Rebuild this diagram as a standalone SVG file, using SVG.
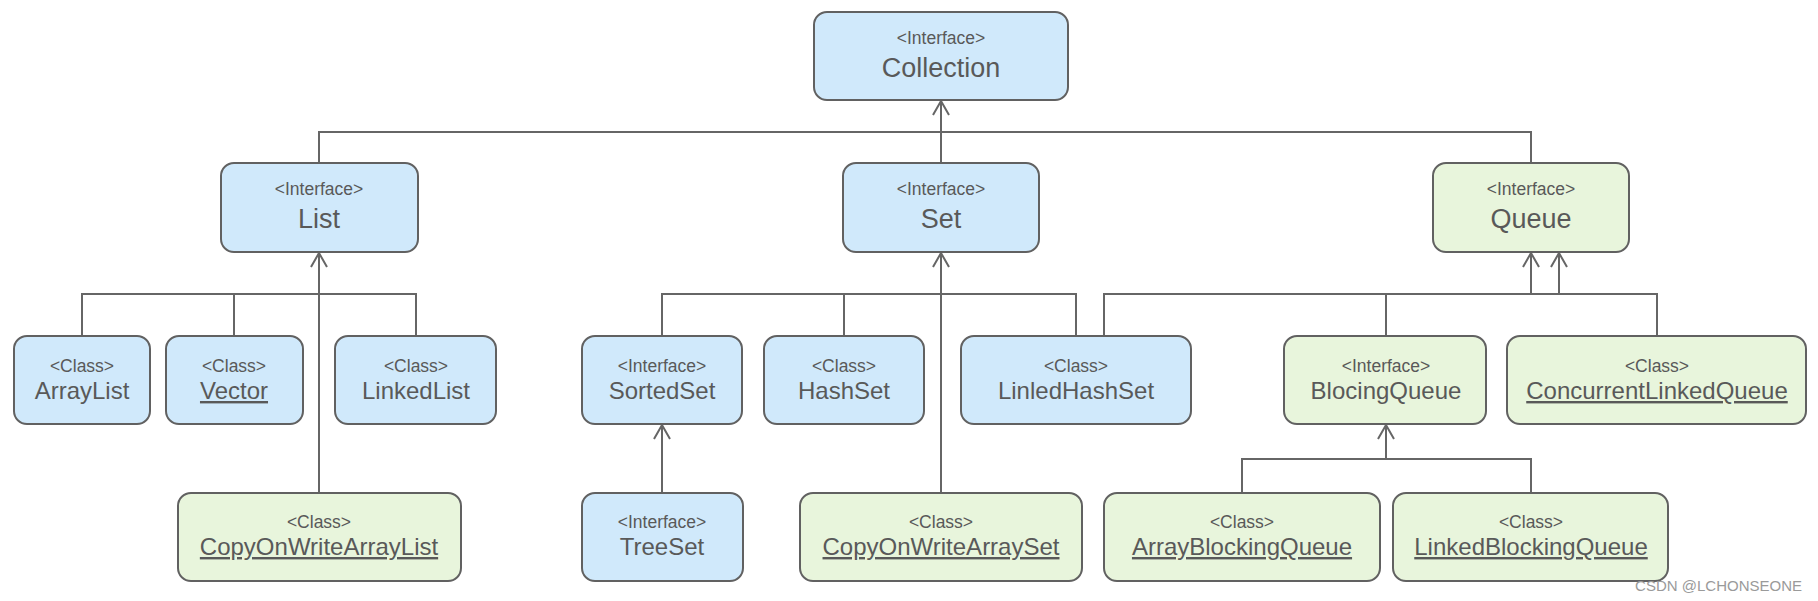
<svg xmlns="http://www.w3.org/2000/svg" width="1818" height="601" viewBox="0 0 1818 601">
<style>
.b rect{fill:#d0e9fb;stroke:#616161;stroke-width:2}
.g rect{fill:#e8f5dc;stroke:#616161;stroke-width:2}
text{font-family:"Liberation Sans",Arial,sans-serif;fill:#595959;text-anchor:middle}
.s{font-size:17.5px}
.l1{font-size:27px}
.l2{font-size:24px}
.u{text-decoration:underline}
#connectors path{fill:none;stroke:#666;stroke-width:2}
.wm{font-size:15px;fill:#9a9a9a;text-anchor:end}
</style>
<defs>
<marker id="arr" markerUnits="userSpaceOnUse" markerWidth="20" markerHeight="20" viewBox="-16 -10 20 20" refX="0" refY="0" orient="auto">
<path d="M-14,-8 L0,0 L-14,8" fill="none" stroke="#666" stroke-width="2"/>
</marker>
</defs>
<rect width="1818" height="601" fill="#fff"/>
<g id="connectors">
<path d="M319,163 V132 H1531 V163"/>
<path d="M941,163 V101" marker-end="url(#arr)"/>
<path d="M82,336 V294 H416 V336 M234,294 V336"/>
<path d="M319,493 V253" marker-end="url(#arr)"/>
<path d="M662,336 V294 H1076 V336 M844,294 V336"/>
<path d="M941,493 V253" marker-end="url(#arr)"/>
<path d="M662,493 V425" marker-end="url(#arr)"/>
<path d="M1104,336 V294 H1657 V336 M1386,294 V336"/>
<path d="M1531,294 V253" marker-end="url(#arr)"/>
<path d="M1559,294 V253" marker-end="url(#arr)"/>
<path d="M1242,493 V459 H1531 V493"/>
<path d="M1386,459 V425" marker-end="url(#arr)"/>
</g>
<g id="collection" class="b"><rect x="814" y="12" width="254" height="88" rx="13"/><text class="s" x="941" y="44">&lt;Interface&gt;</text><text class="l1" x="941" y="77">Collection</text></g>
<g id="list" class="b"><rect x="221" y="163" width="197" height="89" rx="13"/><text class="s" x="319" y="195">&lt;Interface&gt;</text><text class="l1" x="319" y="228">List</text></g>
<g id="set" class="b"><rect x="843" y="163" width="196" height="89" rx="13"/><text class="s" x="941" y="195">&lt;Interface&gt;</text><text class="l1" x="941" y="228">Set</text></g>
<g id="queue" class="g"><rect x="1433" y="163" width="196" height="89" rx="13"/><text class="s" x="1531" y="195">&lt;Interface&gt;</text><text class="l1" x="1531" y="228">Queue</text></g>
<g id="arraylist" class="b"><rect x="14" y="336" width="136" height="88" rx="13"/><text class="s" x="82" y="372">&lt;Class&gt;</text><text class="l2" x="82" y="399">ArrayList</text></g>
<g id="vector" class="b"><rect x="166" y="336" width="137" height="88" rx="13"/><text class="s" x="234" y="372">&lt;Class&gt;</text><text class="l2 u" x="234" y="399">Vector</text></g>
<g id="linkedlist" class="b"><rect x="335" y="336" width="161" height="88" rx="13"/><text class="s" x="416" y="372">&lt;Class&gt;</text><text class="l2" x="416" y="399">LinkedList</text></g>
<g id="copyonwritearraylist" class="g"><rect x="178" y="493" width="283" height="88" rx="13"/><text class="s" x="319" y="528">&lt;Class&gt;</text><text class="l2 u" x="319" y="555">CopyOnWriteArrayList</text></g>
<g id="sortedset" class="b"><rect x="582" y="336" width="160" height="88" rx="13"/><text class="s" x="662" y="372">&lt;Interface&gt;</text><text class="l2" x="662" y="399">SortedSet</text></g>
<g id="hashset" class="b"><rect x="764" y="336" width="160" height="88" rx="13"/><text class="s" x="844" y="372">&lt;Class&gt;</text><text class="l2" x="844" y="399">HashSet</text></g>
<g id="linledhashset" class="b"><rect x="961" y="336" width="230" height="88" rx="13"/><text class="s" x="1076" y="372">&lt;Class&gt;</text><text class="l2" x="1076" y="399">LinledHashSet</text></g>
<g id="treeset" class="b"><rect x="582" y="493" width="161" height="88" rx="13"/><text class="s" x="662" y="528">&lt;Interface&gt;</text><text class="l2" x="662" y="555">TreeSet</text></g>
<g id="copyonwritearrayset" class="g"><rect x="800" y="493" width="282" height="88" rx="13"/><text class="s" x="941" y="528">&lt;Class&gt;</text><text class="l2 u" x="941" y="555">CopyOnWriteArraySet</text></g>
<g id="blocingqueue" class="g"><rect x="1284" y="336" width="202" height="88" rx="13"/><text class="s" x="1386" y="372">&lt;Interface&gt;</text><text class="l2" x="1386" y="399">BlocingQueue</text></g>
<g id="concurrentlinkedqueue" class="g"><rect x="1507" y="336" width="299" height="88" rx="13"/><text class="s" x="1657" y="372">&lt;Class&gt;</text><text class="l2 u" x="1657" y="399">ConcurrentLinkedQueue</text></g>
<g id="arrayblockingqueue" class="g"><rect x="1104" y="493" width="276" height="88" rx="13"/><text class="s" x="1242" y="528">&lt;Class&gt;</text><text class="l2 u" x="1242" y="555">ArrayBlockingQueue</text></g>
<g id="linkedblockingqueue" class="g"><rect x="1393" y="493" width="275" height="88" rx="13"/><text class="s" x="1531" y="528">&lt;Class&gt;</text><text class="l2 u" x="1531" y="555">LinkedBlockingQueue</text></g>
<text class="wm" x="1802" y="591">CSDN @LCHONSEONE</text>
</svg>
